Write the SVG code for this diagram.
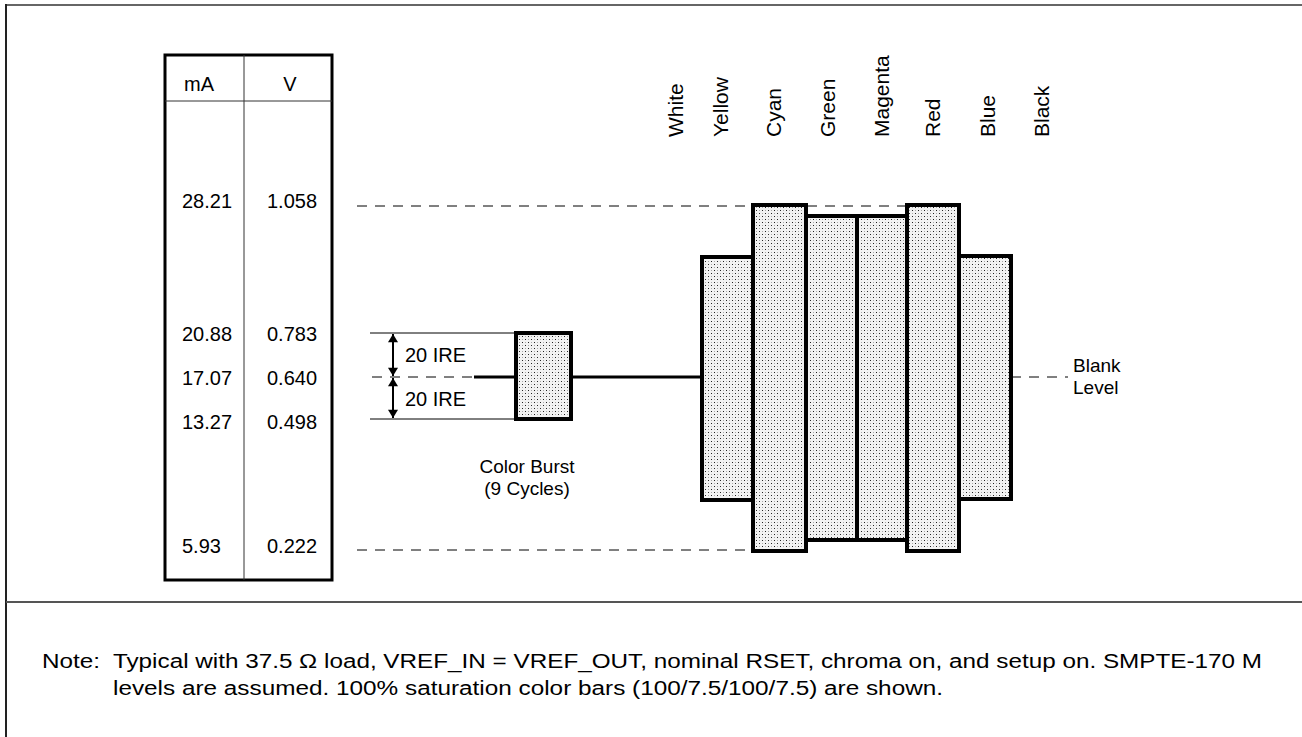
<svg xmlns="http://www.w3.org/2000/svg" width="1302" height="737" viewBox="0 0 1302 737">
  <defs>
    <pattern id="stipple" width="6" height="6" patternUnits="userSpaceOnUse">
      <rect width="6" height="6" fill="#f2f2f2"/>
      <rect x="0" y="0" width="1" height="1" fill="#222"/>
      <rect x="3" y="3" width="1" height="1" fill="#222"/>
      <rect x="3" y="0" width="1" height="1" fill="#aaa"/>
      <rect x="0" y="3" width="1" height="1" fill="#aaa"/>
    </pattern>
    <marker id="tip" viewBox="0 0 10 12" refX="10" refY="6" markerWidth="11" markerHeight="10" markerUnits="userSpaceOnUse" orient="auto">
      <path d="M0,0 L10,6 L0,12 z" fill="#000"/>
    </marker>
    <style>
      text { font-family: "Liberation Sans", Arial, sans-serif; fill: #000; }
      .t { font-size: 20px; }
      .t2 { font-size: 19px; }
      .lab { font-size: 21px; }
      .note { font-size: 20px; }
      .bar { fill: url(#stipple); stroke: #000; stroke-width: 4; }
      .dash { stroke: #000; stroke-width: 1; stroke-dasharray: 10 8; fill: none; }
      .thin { stroke: #000; stroke-width: 1; fill: none; }
      .level { stroke: #000; stroke-width: 3; fill: none; }
    </style>
  </defs>
  <rect width="1302" height="737" fill="#fff"/>

  <!-- frame -->
  <g id="frame">
    <line x1="6" y1="5" x2="1302" y2="5" stroke="#666" stroke-width="2"/>
    <line x1="6" y1="4" x2="6" y2="737" stroke="#222" stroke-width="2"/>
    <line x1="6" y1="602" x2="1302" y2="602" stroke="#555" stroke-width="2"/>
  </g>

  <!-- scale table -->
  <g id="scale-table">
    <rect x="165" y="55" width="167" height="525" fill="none" stroke="#000" stroke-width="3"/>
    <line x1="244" y1="55" x2="244" y2="580" stroke="#333" stroke-width="1"/>
    <line x1="165" y1="101" x2="332" y2="101" stroke="#333" stroke-width="1"/>
    <text class="t" x="199" y="91" text-anchor="middle">mA</text>
    <text class="t" x="290" y="91" text-anchor="middle">V</text>
    <g class="t">
      <text x="182" y="208">28.21</text>
      <text x="267" y="208">1.058</text>
      <text x="182" y="341">20.88</text>
      <text x="267" y="341">0.783</text>
      <text x="182" y="385">17.07</text>
      <text x="267" y="385">0.640</text>
      <text x="182" y="429">13.27</text>
      <text x="267" y="429">0.498</text>
      <text x="182" y="553">5.93</text>
      <text x="267" y="553">0.222</text>
    </g>
  </g>

  <!-- reference lines and connectors -->
  <g id="connectors">
    <line class="dash" x1="357" y1="206" x2="907" y2="206"/>
    <line class="dash" x1="357" y1="550" x2="753" y2="550"/>
    <line class="dash" x1="372" y1="377" x2="474" y2="377"/>
    <line class="dash" x1="1011" y1="377" x2="1068" y2="377"/>
    <line class="thin" x1="370" y1="333" x2="516" y2="333"/>
    <line class="thin" x1="370" y1="419" x2="516" y2="419"/>
    <line class="level" x1="474" y1="377" x2="516" y2="377"/>
    <line class="level" x1="571" y1="377" x2="702" y2="377"/>
    <line x1="393" y1="355" x2="393" y2="334" stroke="#000" stroke-width="2" marker-end="url(#tip)"/>
    <line x1="393" y1="355" x2="393" y2="376" stroke="#000" stroke-width="2" marker-end="url(#tip)"/>
    <line x1="393" y1="398" x2="393" y2="378" stroke="#000" stroke-width="2" marker-end="url(#tip)"/>
    <line x1="393" y1="398" x2="393" y2="418" stroke="#000" stroke-width="2" marker-end="url(#tip)"/>
  </g>

  <g id="ire-labels" class="t">
    <text x="405" y="362">20 IRE</text>
    <text x="405" y="406">20 IRE</text>
  </g>

  <!-- color burst -->
  <g id="color-burst">
    <rect class="bar" x="516" y="333" width="55" height="86"/>
    <text class="t2" x="527" y="473" text-anchor="middle">Color Burst</text>
    <text class="t2" x="527" y="495" text-anchor="middle">(9 Cycles)</text>
  </g>

  <!-- color bars -->
  <g id="bar-yellow"><rect class="bar" x="702" y="257" width="51" height="243"/></g>
  <g id="bar-blue"><rect class="bar" x="959" y="256" width="52" height="243"/></g>
  <g id="bar-green"><rect class="bar" x="806" y="216" width="51" height="324"/></g>
  <g id="bar-magenta"><rect class="bar" x="857" y="216" width="50" height="324"/></g>
  <g id="bar-cyan"><rect class="bar" x="753" y="205" width="53" height="346"/></g>
  <g id="bar-red"><rect class="bar" x="907" y="205" width="52" height="346"/></g>

  <!-- bar names -->
  <g id="bar-labels" class="lab">
    <text transform="translate(683,137) rotate(-90)">White</text>
    <text transform="translate(728,137) rotate(-90)">Yellow</text>
    <text transform="translate(781,137) rotate(-90)">Cyan</text>
    <text transform="translate(835,137) rotate(-90)">Green</text>
    <text transform="translate(889,137) rotate(-90)">Magenta</text>
    <text transform="translate(940,137) rotate(-90)">Red</text>
    <text transform="translate(995,137) rotate(-90)">Blue</text>
    <text transform="translate(1049,137) rotate(-90)">Black</text>
  </g>

  <g id="blank-level" class="t2">
    <text x="1073" y="372">Blank</text>
    <text x="1073" y="394">Level</text>
  </g>

  <!-- footnote -->
  <g id="note" class="note">
    <text x="42" y="668" textLength="58" lengthAdjust="spacingAndGlyphs">Note:</text>
    <text x="113" y="668" textLength="1149" lengthAdjust="spacingAndGlyphs">Typical with 37.5 Ω load, VREF_IN = VREF_OUT, nominal RSET, chroma on, and setup on. SMPTE-170 M</text>
    <text x="113" y="695" textLength="830" lengthAdjust="spacingAndGlyphs">levels are assumed. 100% saturation color bars (100/7.5/100/7.5) are shown.</text>
  </g>
</svg>
